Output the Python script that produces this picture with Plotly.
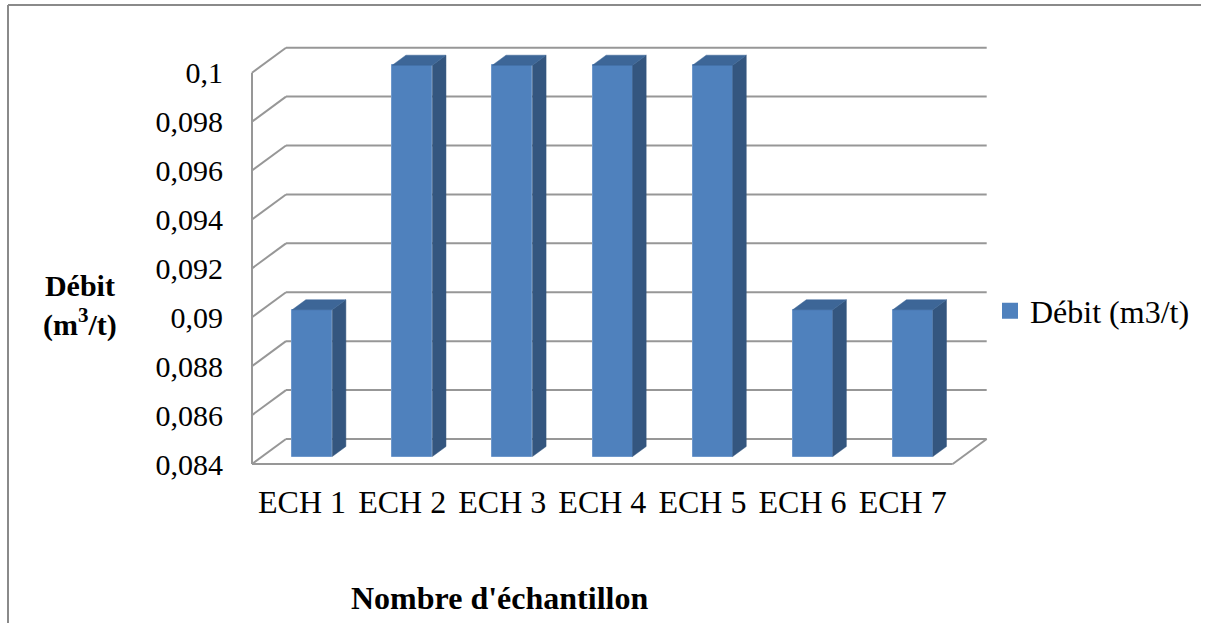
import plotly.graph_objects as go

# ---- data -------------------------------------------------------------
categories = ["ECH 1", "ECH 2", "ECH 3", "ECH 4", "ECH 5", "ECH 6", "ECH 7"]
debit = [0.09, 0.1, 0.1, 0.1, 0.1, 0.09, 0.09]
y_ticks = [0.084, 0.086, 0.088, 0.09, 0.092, 0.094, 0.096, 0.098, 0.1]
y_tick_text = ["0,084", "0,086", "0,088", "0,09", "0,092", "0,094", "0,096", "0,098", "0,1"]
series_name = "Débit (m3/t)"

# ---- page / projection geometry ---------------------------------------
W, H = 1210, 623
L, R, T, B = 240, 207, 37, 149          # plot-area margins (px)
PX_U = 100.1                            # px per category slot
PX_V = 24456.0                          # px per m3/t
FRONT_X, FLOOR_Y = 252, 464             # front-left corner of the floor (px)

x0 = -(FRONT_X - L) / PX_U
x1 = x0 + (W - L - R) / PX_U
y0 = y_ticks[0] - (H - B - FLOOR_Y) / PX_V
y1 = y0 + (H - T - B) / PX_V

DX = 34 / PX_U                          # oblique depth offset, x (data units)
DY = 25 / PX_V                          # oblique depth offset, y (data units)
BAR_W = 0.4
D_FRONT, D_BACK = 0.3, 0.7              # bar depth inside the box
n = len(categories)
vmin = y_ticks[0]

SERIF = "Liberation Serif, Times New Roman, Times, serif"


def paper_x(px):
    return (px - L) / (W - L - R)


def paper_y(py):
    return (H - B - py) / (H - T - B)


GRID = "#979797"
FRONT = "#4F81BD"
SIDE = "#34567F"
TOP = "#3D6697"

fig = go.Figure()

# front faces of the columns
xc = [i + 0.5 + D_FRONT * DX for i in range(n)]
lift = D_FRONT * DY
fig.add_trace(go.Bar(
    x=xc,
    y=[v - vmin for v in debit],
    base=vmin + lift,
    width=BAR_W,
    marker=dict(color=FRONT, line=dict(color="#6E98CC", width=1)),
    name=series_name,
    legendgroup="debit",
    customdata=[[c, v] for c, v in zip(categories, debit)],
    hovertemplate="%{customdata[0]}: %{customdata[1]}<extra></extra>",
    showlegend=False,
))

# side and top faces
ddx = (D_BACK - D_FRONT) * DX
ddy = (D_BACK - D_FRONT) * DY
sx, sy, tx, ty = [], [], [], []
for c, v in zip(xc, debit):
    xl, xr = c - BAR_W / 2, c + BAR_W / 2
    yb, yt = vmin + lift, v + lift
    sx += [xr, xr + ddx, xr + ddx, xr, xr, None]
    sy += [yb, yb + ddy, yt + ddy, yt, yb, None]
    tx += [xl, xr, xr + ddx, xl + ddx, xl, None]
    ty += [yt, yt, yt + ddy, yt + ddy, yt, None]

fig.add_trace(go.Scatter(x=sx, y=sy, mode="lines", fill="toself", fillcolor=SIDE,
                         line=dict(color=SIDE, width=0.5), hoverinfo="skip",
                         legendgroup="debit", showlegend=False))
fig.add_trace(go.Scatter(x=tx, y=ty, mode="lines", fill="toself", fillcolor=TOP,
                         line=dict(color=TOP, width=0.5), hoverinfo="skip",
                         legendgroup="debit", showlegend=False))

# legend key: a plain square swatch in the series colour
fig.add_trace(go.Scatter(x=[None], y=[None], mode="markers", name=series_name,
                         legendgroup="debit",
                         marker=dict(symbol="square", size=16, color=FRONT)))

# walls, floor and gridlines of the 3-D box
shapes = []
line_style = dict(color=GRID, width=2)
for t in y_ticks:
    shapes.append(dict(type="line", xref="x", yref="y", x0=0, y0=t, x1=DX, y1=t + DY,
                       line=line_style, layer="below"))
    shapes.append(dict(type="line", xref="x", yref="y", x0=DX, y0=t + DY, x1=n + DX, y1=t + DY,
                       line=line_style, layer="below"))
shapes.append(dict(type="line", xref="x", yref="y", x0=0, y0=vmin, x1=0, y1=y_ticks[-1],
                   line=line_style, layer="below"))
shapes.append(dict(type="line", xref="x", yref="y", x0=0, y0=vmin, x1=n, y1=vmin,
                   line=line_style, layer="above"))
shapes.append(dict(type="line", xref="x", yref="y", x0=n, y0=vmin, x1=n + DX, y1=vmin + DY,
                   line=line_style, layer="above"))

# outer chart frame
frame = dict(color="#8A8A8A", width=2)
shapes.append(dict(type="line", xref="paper", yref="paper",
                   x0=paper_x(8), y0=paper_y(5), x1=paper_x(1201), y1=paper_y(5), line=frame))
shapes.append(dict(type="line", xref="paper", yref="paper",
                   x0=paper_x(8), y0=paper_y(5), x1=paper_x(8), y1=paper_y(630), line=frame))

annotations = [
    dict(text="<b>Débit</b><br><b>(m<sup>3</sup>/t)</b>", xref="paper", yref="paper",
         x=paper_x(80), y=paper_y(305), xanchor="center", yanchor="middle", showarrow=False,
         align="center", font=dict(family=SERIF, size=30, color="black")),
    dict(text="<b>Nombre d'échantillon</b>", xref="paper", yref="paper",
         x=paper_x(499), y=paper_y(598), xanchor="center", yanchor="middle", showarrow=False,
         font=dict(family=SERIF, size=32, color="black")),
]

fig.update_layout(
    width=W, height=H,
    margin=dict(l=L, r=R, t=T, b=B, autoexpand=False),
    paper_bgcolor="white", plot_bgcolor="rgba(0,0,0,0)",
    font=dict(family=SERIF, color="black"),
    shapes=shapes,
    annotations=annotations,
    showlegend=True,
    legend=dict(x=paper_x(990), y=paper_y(311), xanchor="left", yanchor="middle",
                font=dict(family=SERIF, size=32, color="black"),
                bgcolor="rgba(0,0,0,0)"),
    xaxis=dict(range=[x0, x1], showgrid=False, zeroline=False, showline=False,
               tickvals=[i + 0.5 for i in range(n)], ticktext=categories, ticks="",
               ticklabelstandoff=6, automargin=False,
               tickfont=dict(family=SERIF, size=32, color="black"), fixedrange=True),
    yaxis=dict(range=[y0, y1], showgrid=False, zeroline=False, showline=False,
               tickvals=y_ticks, ticktext=y_tick_text, ticks="",
               ticklabelstandoff=16, automargin=False,
               tickfont=dict(family=SERIF, size=30, color="black"), fixedrange=True),
    bargap=0,
)

fig.write_html("out.html")
